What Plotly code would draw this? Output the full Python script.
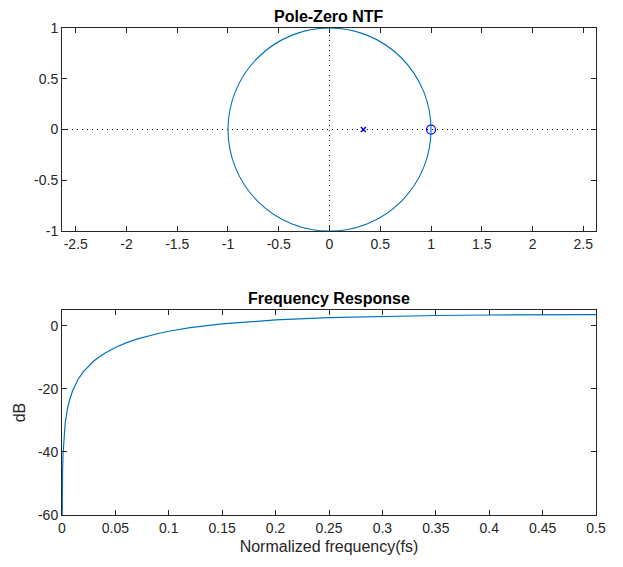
import plotly.graph_objects as go

# Pole-zero data
pole_re = [0.3333]
pole_im = [0.0]
zero_re = [1.0]
zero_im = [0.0]

# Frequency response
freq = [0.0, 0.0001, 0.0002, 0.0005, 0.001, 0.0015, 0.002, 0.003, 0.005, 0.007,
        0.01, 0.015, 0.02, 0.025, 0.03, 0.035, 0.04, 0.05, 0.06, 0.07, 0.08,
        0.09, 0.1, 0.12, 0.15, 0.18, 0.2, 0.25, 0.3, 0.35, 0.4, 0.45, 0.5]
mag_db = [-75.0, -60.5, -54.5, -46.54, -40.52, -37.0, -34.5, -30.97, -26.54, -23.62,
          -20.53, -17.03, -14.55, -12.65, -11.10, -9.81, -8.70, -6.88, -5.44, -4.26, -3.28,
          -2.46, -1.75, -0.62, 0.59, 1.42, 1.84, 2.55, 2.98, 3.25, 3.41, 3.49, 3.52]

x1_ticks = [-2.5, -2, -1.5, -1, -0.5, 0, 0.5, 1, 1.5, 2, 2.5]
x1_text = ["-2.5", "-2", "-1.5", "-1", "-0.5", "0", "0.5", "1", "1.5", "2", "2.5"]
y1_ticks = [-1, -0.5, 0, 0.5, 1]
y1_text = ["-1", "-0.5", "0", "0.5", "1"]
x2_ticks = [0, 0.05, 0.1, 0.15, 0.2, 0.25, 0.3, 0.35, 0.4, 0.45, 0.5]
x2_text = ["0", "0.05", "0.1", "0.15", "0.2", "0.25", "0.3", "0.35", "0.4", "0.45", "0.5"]
y2_ticks = [-60, -40, -20, 0]
y2_text = ["-60", "-40", "-20", "0"]

BLUE = "#0072BD"
AX = "#262626"
FONT = "Liberation Sans, Arial, sans-serif"

fig = go.Figure()

fig.add_trace(go.Scatter(x=pole_re, y=pole_im, mode="markers",
                         marker=dict(symbol="x-thin", size=5, line=dict(color="#0000FF", width=1.5)),
                         xaxis="x", yaxis="y", showlegend=False))
fig.add_trace(go.Scatter(x=zero_re, y=zero_im, mode="markers",
                         marker=dict(symbol="circle-open", size=9, color="#0000FF", line=dict(width=1.2)),
                         xaxis="x", yaxis="y", showlegend=False))
fig.add_trace(go.Scatter(x=freq, y=mag_db, mode="lines",
                         line=dict(color=BLUE, width=1.2),
                         xaxis="x2", yaxis="y2", showlegend=False))

axis_common = dict(showgrid=False, zeroline=False, showline=True, linecolor=AX, linewidth=1,
                   mirror="ticks", ticks="inside", ticklen=5, tickcolor=AX, tickwidth=1,
                   automargin=False,
                   tickfont=dict(family=FONT, size=14, color=AX))

fig.update_layout(
    width=615, height=559,
    margin=dict(l=54, r=27, t=20, b=52),
    paper_bgcolor="white", plot_bgcolor="white",
    font=dict(family=FONT, color=AX),
    xaxis=dict(domain=[0, 1], range=[-2.635, 2.625], tickvals=x1_ticks, ticktext=x1_text,
               anchor="y", **axis_common),
    yaxis=dict(domain=[0.583, 1], range=[-1, 1], tickvals=y1_ticks, ticktext=y1_text,
               anchor="x", **axis_common),
    xaxis2=dict(domain=[0, 1], range=[0, 0.5], tickvals=x2_ticks, ticktext=x2_text,
                anchor="y2",
                title=dict(text="Normalized frequency(fs)", font=dict(family=FONT, size=16, color=AX), standoff=6),
                **axis_common),
    yaxis2=dict(domain=[0, 0.421], range=[-60, 5], tickvals=y2_ticks, ticktext=y2_text,
                anchor="x2",
                title=dict(text="dB", font=dict(family=FONT, size=16, color=AX), standoff=8),
                **axis_common),
    shapes=[
        dict(type="circle", xref="x", yref="y", x0=-1, x1=1, y0=-1, y1=1,
             line=dict(color=BLUE, width=1.1), layer="above"),
        dict(type="line", xref="x domain", yref="y", x0=0, x1=1, y0=0, y1=0,
             line=dict(color="black", width=1, dash="1px,4px"), layer="below"),
        dict(type="line", xref="x", yref="y domain", x0=0, x1=0, y0=0, y1=1,
             line=dict(color="black", width=1, dash="1px,4px"), layer="below"),
    ],
    annotations=[
        dict(text="<b>Pole-Zero NTF</b>", xref="x domain", yref="y domain", x=0.5, y=1,
             yanchor="bottom", yshift=2, showarrow=False, borderpad=0,
             font=dict(family=FONT, size=16, color="black")),
        dict(text="<b>Frequency Response</b>", xref="x2 domain", yref="y2 domain", x=0.5, y=1,
             yanchor="bottom", yshift=2, showarrow=False, borderpad=0,
             font=dict(family=FONT, size=16, color="black")),
    ],
)

fig.write_html("out.html")
